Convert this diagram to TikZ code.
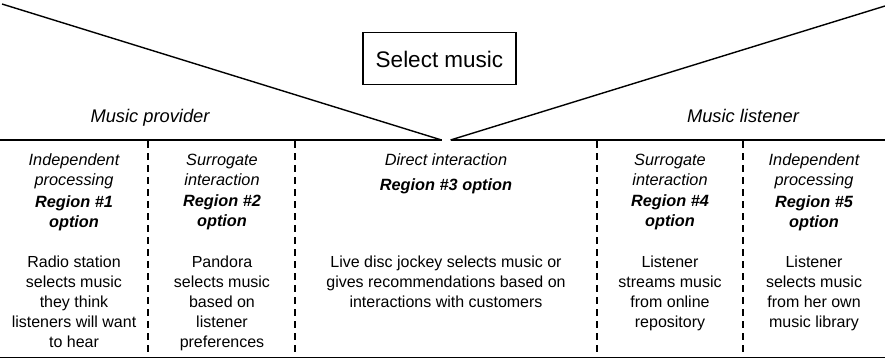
\documentclass[tikz,border=0pt]{standalone}
\usepackage{fontspec}
\setmainfont{Liberation Sans}
\begin{document}
\begin{tikzpicture}[x=1pt,y=-1pt,
  rule/.style={line width=1.8pt},
  slope/.style={line width=1.4pt},
  divider/.style={line width=2pt, dash pattern=on 7pt off 5pt},
  head/.style={anchor=north, inner sep=0pt, align=center,
    font=\fontsize{16.3}{20}\selectfont\itshape},
  body/.style={anchor=north, inner sep=0pt, align=center,
    font=\fontsize{16}{20}\selectfont},
  side/.style={anchor=base, inner sep=0pt, font=\fontsize{18.3}{22}\selectfont\itshape}]
\useasboundingbox (0,0) rectangle (885,359);

% apex points and frame corners
\coordinate (tl) at (2,4);
\coordinate (tr) at (885,6);
\coordinate (al) at (441.5,140);
\coordinate (ar) at (450.5,140);
\coordinate (hl) at (0,140);
\coordinate (hr) at (885,140);
\coordinate (bl) at (0,357.5);
\coordinate (br) at (885,357.5);

% the two wedges and the table rules
\draw[slope] (tl) -- (al);
\draw[slope] (ar) -- (tr);
\draw[rule] (hl) -- (al);
\draw[rule] (ar) -- (hr);
\draw[rule] (bl) -- (br);

% column dividers
\foreach \x/\n in {148/d1, 295/d2, 597/d3, 743/d4} {
  \coordinate (\n t) at (\x,141);
  \coordinate (\n b) at (\x,357);
  \draw[divider] (\n t) -- (\n b);
}

% title box
\node (selbox) [draw, line width=1.3pt, minimum width=153pt, minimum height=52pt, inner sep=0pt] at (439.5,58.5) {};
\node (sel) [anchor=base, inner sep=0pt, font=\fontsize{22.5}{26}\selectfont] at (439.5,67) {Select music};

% side labels
\node (prov) [side] at (150,122) {Music provider};
\node (list) [side] at (743,122) {Music listener};

% column headers
\node (h1) [head] at (74,153.5) {Independent\\processing\\[1.5pt]\textbf{Region \#1}\\\textbf{option}};
\node (h2) [head] at (222,153.5) {Surrogate\\interaction\\[1.5pt]\textbf{Region \#2}\\\textbf{option}};
\node (h3) [head] at (446,153.5) {Direct interaction\\[5pt]\textbf{Region \#3 option}};
\node (h4) [head] at (670,153.5) {Surrogate\\interaction\\[1.5pt]\textbf{Region \#4}\\\textbf{option}};
\node (h5) [head] at (814,153.5) {Independent\\processing\\[1.5pt]\textbf{Region \#5}\\\textbf{option}};

% column descriptions
\node (b1) [body] at (74,255.5) {Radio station\\selects music\\they think\\listeners will want\\to hear};
\node (b2) [body] at (222,255.5) {Pandora\\selects music\\based on\\listener\\preferences};
\node (b3) [body] at (446,255.5) {Live disc jockey selects music or\\gives recommendations based on\\interactions with customers};
\node (b4) [body] at (670,255.5) {Listener\\streams music\\from online\\repository};
\node (b5) [body] at (814,255.5) {Listener\\selects music\\from her own\\music library};
\end{tikzpicture}
\end{document}
